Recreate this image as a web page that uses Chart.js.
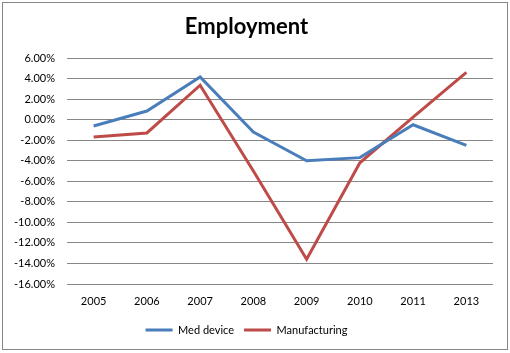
<!DOCTYPE html>
<html>
<head>
<meta charset="utf-8">
<script src="https://cdn.jsdelivr.net/npm/chart.js@4"></script>
<style>
  html, body { margin: 0; padding: 0; background: #fff; }
  #wrap { width: 510px; height: 353px; }
</style>
</head>
<body>
<div id="wrap"><canvas id="c" width="510" height="353"></canvas></div>
<script>
const categories = ['2005', '2006', '2007', '2008', '2009', '2010', '2011', '2013'];
const medDevice = [-0.62, 0.84, 4.15, -1.2, -4.0, -3.7, -0.5, -2.5];
const manufacturing = [-1.7, -1.3, 3.35, -5.0, -13.6, -4.2, 0.25, 4.6];
const seriesNames = ['Med device', 'Manufacturing'];
const titleText = 'Employment';
const yMin = -16, yMax = 6, yStep = 2;

const FONT = 'Lato, "Liberation Sans", sans-serif';

const borderPlugin = {
  id: 'outerBorder',
  beforeDraw(chart) {
    const ctx = chart.ctx;
    ctx.save();
    ctx.fillStyle = '#ffffff';
    ctx.fillRect(0, 0, chart.width, chart.height);
    ctx.strokeStyle = '#868686';
    ctx.lineWidth = 1;
    ctx.strokeRect(2.5, 2.5, 505, 347);
    ctx.restore();
  }
};

new Chart(document.getElementById('c'), {
  type: 'line',
  data: {
    labels: categories,
    datasets: [
      { label: seriesNames[0], data: medDevice, borderColor: '#4A7EBB', backgroundColor: '#4A7EBB',
        borderWidth: 3, pointRadius: 0, pointHoverRadius: 0, tension: 0, fill: false },
      { label: seriesNames[1], data: manufacturing, borderColor: '#BE4B48', backgroundColor: '#BE4B48',
        borderWidth: 3, pointRadius: 0, pointHoverRadius: 0, tension: 0, fill: false }
    ]
  },
  options: {
    responsive: false,
    animation: false,
    devicePixelRatio: 1,
    layout: { padding: { left: 0, right: 17, top: 5, bottom: 7.5 } },
    plugins: {
      tooltip: { enabled: false },
      title: {
        display: true, text: titleText, color: '#000',
        font: { family: FONT, size: 22, weight: 'bold', lineHeight: 1.2 },
        padding: { top: 8.8, bottom: 17.8 }
      },
      legend: {
        position: 'bottom',
        labels: {
          color: '#000',
          font: { family: FONT, size: 11 },
          boxWidth: 27, boxHeight: 3, padding: 10,
          generateLabels(chart) {
            return chart.data.datasets.map((ds, i) => ({
              text: ds.label, fillStyle: ds.borderColor, strokeStyle: ds.borderColor,
              lineWidth: 0, hidden: false, datasetIndex: i, fontColor: '#000'
            }));
          }
        }
      }
    },
    scales: {
      x: {
        offset: true,
        grid: { display: false, drawTicks: false },
        border: { display: false },
        ticks: { color: '#000', font: { family: FONT, size: 11 }, padding: 11, maxRotation: 0 },
        afterFit(scale) { scale.height = 30.5; }
      },
      y: {
        min: yMin, max: yMax,
        grid: { color: '#868686', lineWidth: 1, drawTicks: false },
        border: { display: false },
        ticks: {
          stepSize: yStep, color: '#000', font: { family: FONT, size: 11 }, padding: 12,
          callback: v => v.toFixed(2) + '%'
        },
        afterFit(scale) { scale.width = 67; }
      }
    }
  },
  plugins: [borderPlugin]
});
</script>
</body>
</html>
